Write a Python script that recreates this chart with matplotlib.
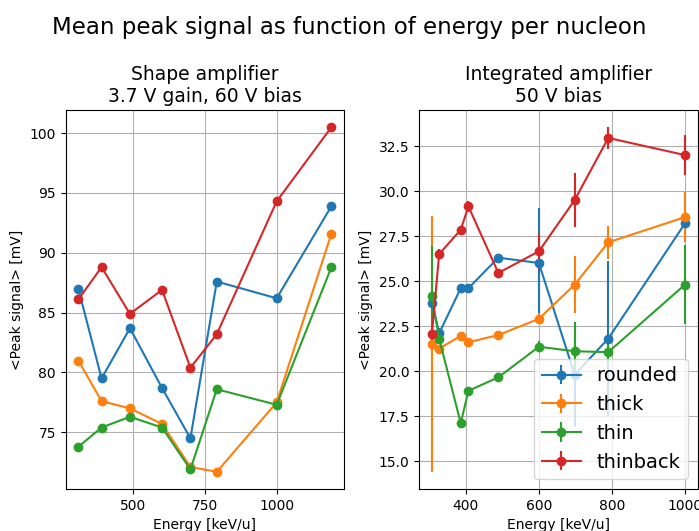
import matplotlib
matplotlib.use("Agg")
import matplotlib.pyplot as plt

# Shape amplifier (3.7 V gain, 60 V bias)
energy_shape = [308, 389, 488, 600, 699, 791, 1000, 1191]
shape_rounded = [87.0, 79.5, 83.7, 78.7, 74.5, 87.6, 86.2, 93.9]
shape_thick = [81.0, 77.6, 77.0, 75.7, 72.1, 71.7, 77.5, 91.6]
shape_thin = [73.8, 75.4, 76.3, 75.4, 71.9, 78.6, 77.3, 88.8]
shape_thinback = [86.1, 88.8, 84.9, 86.9, 80.4, 83.2, 94.3, 100.5]
shape_xticks = [500, 750, 1000]

# Integrated amplifier (50 V bias)
energy_int = [307, 327, 386, 407, 489, 600, 698, 790, 1000]
int_rounded = [23.8, 22.1, 24.6, 24.6, 26.3, 26.0, 19.8, 21.8, 28.2]
int_rounded_err = [0.3, 0.3, 0.2, 0.2, 0.2, 3.05, 2.9, 4.3, 0.3]
int_thick = [21.5, 21.25, 21.95, 21.6, 22.0, 22.9, 24.8, 27.15, 28.55]
int_thick_err = [7.1, 0.2, 0.2, 0.2, 0.2, 0.3, 1.6, 0.9, 1.4]
int_thin = [24.15, 21.8, 17.1, 18.9, 19.65, 21.35, 21.1, 21.05, 24.8]
int_thin_err = [2.8, 0.3, 0.2, 0.2, 0.2, 0.3, 1.6, 0.5, 2.2]
int_thinback = [22.05, 26.5, 27.85, 29.15, 25.45, 26.65, 29.5, 32.95, 32.0]
int_thinback_err = [0.3, 0.3, 0.2, 0.3, 0.2, 1.0, 1.5, 0.6, 1.1]

labels = ["rounded", "thick", "thin", "thinback"]
colors = ["#1f77b4", "#ff7f0e", "#2ca02c", "#d62728"]

fig, (ax1, ax2) = plt.subplots(1, 2, figsize=(6.99, 5.31), dpi=100)
fig.suptitle("Mean peak signal as function of energy per nucleon", fontsize=16.5, y=0.97)

for vals, lab, c in zip([shape_rounded, shape_thick, shape_thin, shape_thinback], labels, colors):
    ax1.plot(energy_shape, vals, marker="o", color=c, label=lab)
ax1.set_title("Shape amplifier\n3.7 V gain, 60 V bias", fontsize=13.5)
ax1.set_xlabel("Energy [keV/u]")
ax1.set_ylabel("<Peak signal> [mV]")
ax1.set_xticks(shape_xticks)
ax1.grid(True)

series = [
    (int_rounded, int_rounded_err),
    (int_thick, int_thick_err),
    (int_thin, int_thin_err),
    (int_thinback, int_thinback_err),
]
for (vals, err), lab, c in zip(series, labels, colors):
    ax2.errorbar(energy_int, vals, yerr=err, marker="o", color=c, label=lab)
ax2.set_title("Integrated amplifier\n50 V bias", fontsize=13.5)
ax2.set_xlabel("Energy [keV/u]")
ax2.set_ylabel("<Peak signal> [mV]")
ax2.grid(True)
ax2.legend(loc="lower right", fontsize=14)

fig.subplots_adjust(left=0.094, right=0.998, bottom=0.079, top=0.793, wspace=0.27)
fig.savefig("out.png", dpi=100)
